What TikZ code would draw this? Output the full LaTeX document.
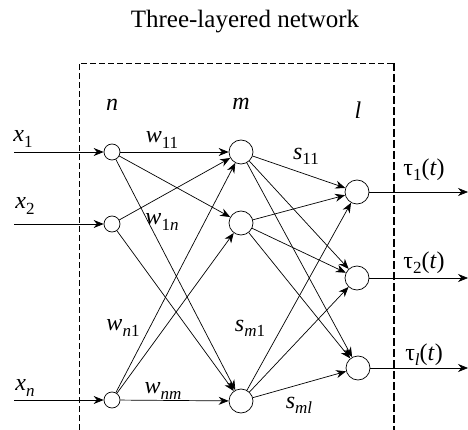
\documentclass[tikz,border=0pt]{standalone}
\usepackage{fontspec}
\setmainfont{Liberation Serif}
\usetikzlibrary{arrows.meta}
\newcommand{\lsub}[1]{\raisebox{-0.22em}{\fontsize{17}{19}\selectfont #1}}

\begin{document}
\begin{tikzpicture}[x=1pt,y=-1pt,
  inp/.style={draw,circle,inner sep=0pt,minimum size=16pt,line width=0.7pt},
  neu/.style={draw,circle,inner sep=0pt,minimum size=24pt,line width=0.7pt},
  ar/.style={-{Stealth[length=10pt,width=8pt]},line width=0.7pt},
  lab/.style={font=\fontsize{24}{28}\selectfont,inner sep=0pt}]
\useasboundingbox (0,0) rectangle (468,430);
\node[font=\fontsize{25}{30}\selectfont] (title) at (245,22) {Three-layered network};
% dashed frame
\draw[line width=0.8pt,dash pattern=on 6pt off 3pt] (79,430) -- (79,63) -- (394,63);
\draw[line width=1.8pt,dash pattern=on 8pt off 3pt] (394,63) -- (394,430);
% layers
\node[lab] (ln) at (112,105) {\textit{n}};
\node[lab] (lm) at (241,104) {\textit{m}};
\node[lab] (ll) at (358,110) {\textit{l}};
\node[inp] (in1) at (112,152) {};
\node[inp] (in2) at (112,224) {};
\node[inp] (inn) at (112,400) {};
\node[neu] (mid1) at (241,152) {};
\node[neu] (mid2) at (241,223) {};
\node[neu] (midm) at (241,401) {};
\node[neu] (out1) at (357,192) {};
\node[neu] (out2) at (357,278) {};
\node[neu] (outl) at (358,368) {};
% inputs and outputs
\coordinate (s1) at (14,152);
\coordinate (s2) at (14,224);
\coordinate (sn) at (14,400);
\coordinate (e1) at (468,192);
\coordinate (e2) at (468,278);
\coordinate (el) at (468,368);
\draw[ar] (s1) -- (in1);
\draw[ar] (s2) -- (in2);
\draw[ar] (sn) -- (inn);
\draw[ar] (out1) -- (e1);
\draw[ar] (out2) -- (e2);
\draw[ar] (outl) -- (el);
\node[lab] (x1) at (23,139) {\textit{x}\lsub{1}};
\node[lab] (x2) at (25,206) {\textit{x}\lsub{2}};
\node[lab] (xn) at (25,388) {\textit{x}\lsub{\textit{n}}};
\node[lab] (t1) at (424,170) {τ\lsub{1}(\textit{t})};
\node[lab] (t2) at (424,263) {τ\lsub{2}(\textit{t})};
\node[lab] (tl) at (424,355) {τ\lsub{\textit{l}}(\textit{t})};
% weights
\draw[ar] (in1) -- (mid1);
\draw[ar] (in1) -- (mid2);
\draw[ar] (in1) -- (midm);
\draw[ar] (in2) -- (mid1);
\draw[ar] (in2) -- (midm);
\draw[ar] (inn) -- (mid1);
\draw[ar] (inn) -- (mid2);
\draw[ar] (inn) -- (midm);
\foreach \a in {mid1,mid2,midm}
  \foreach \b in {out1,out2,outl}
    \draw[ar] (\a) -- (\b);
\node[lab] (w11) at (162,140) {\textit{w}\lsub{11}};
\node[lab] (w1n) at (162,222) {\textit{w}\lsub{1\textit{n}}};
\node[lab] (wn1) at (123,328) {\textit{w}\lsub{\textit{n}1}};
\node[lab] (wnm) at (163,391) {\textit{w}\lsub{\textit{nm}}};
\node[lab] (s11) at (306,156) {\textit{s}\lsub{11}};
\node[lab] (sm1) at (250,328) {\textit{s}\lsub{\textit{m}1}};
\node[lab] (sml) at (299,405) {\textit{s}\lsub{\textit{ml}}};
\end{tikzpicture}
\end{document}
